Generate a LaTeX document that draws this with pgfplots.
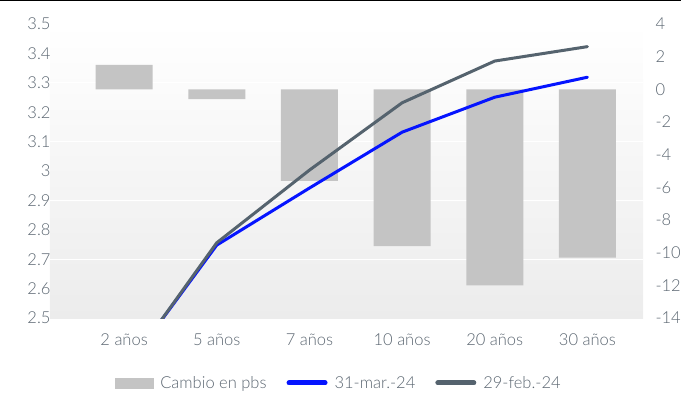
\documentclass[border=0pt]{standalone}
\usepackage{fontspec}
\setmainfont{Lato}[UprightFont=* Light]
\usepackage{pgfplots}
\pgfplotsset{compat=1.18}
\definecolor{barc}{RGB}{196,196,196}
\definecolor{marc}{RGB}{5,20,255}
\definecolor{febc}{RGB}{85,99,110}
\definecolor{txtc}{RGB}{90,101,112}
\definecolor{bgbot}{RGB}{236,236,236}
\newcommand{\lblfont}{\fontsize{16.5}{19}\selectfont}
\begin{document}
\begin{tikzpicture}
\useasboundingbox (-50pt,-74pt) rectangle (631pt,318pt);
\draw[black, line width=1.3pt] (-50pt,317.4pt) -- (631pt,317.4pt);
% right axis: change in basis points
\begin{axis}[
  at={(0,0)}, anchor=south west,
  scale only axis, width=593pt, height=294pt,
  xmin=-0.8, xmax=5.6, ymin=-14, ymax=4,
  axis y line*=right, axis x line=none,
  axis line style={draw=none}, tick style={draw=none},
  ytick={-14,-12,-10,-8,-6,-4,-2,0,2,4},
  extra y ticks={-10.4,-6.8,-3.2,0.4},
  extra y tick labels={},
  extra y tick style={grid=major, major grid style={white, line width=1.2pt}},
  /pgf/number format/assume math mode=true,
  yticklabel style={font=\lblfont, color=txtc, anchor=west, xshift=9pt},
  axis background/.style={top color=white, bottom color=bgbot},
  xtick=\empty,
]
\addplot[ybar, bar width=57pt, bar shift=0pt, fill=barc, draw=none]
  coordinates {(0,1.5) (1,-0.6) (2,-5.6) (3,-9.6) (4,-12) (5,-10.3)};
\end{axis}
% left axis: yields
\begin{axis}[
  at={(0,0)}, anchor=south west,
  scale only axis, width=593pt, height=294pt,
  xmin=-0.8, xmax=5.6, ymin=2.5, ymax=3.5,
  axis y line*=left, axis x line*=bottom,
  axis line style={draw=none}, tick style={draw=none},
  xtick={0,1,2,3,4,5},
  xticklabels={2 años, 5 años, 7 años, 10 años, 20 años, 30 años},
  xticklabel style={yshift=-12pt},
  ytick={2.5,2.6,2.7,2.8,2.9,3,3.1,3.2,3.3,3.4,3.5},
  yticklabel style={/pgf/number format/fixed, /pgf/number format/precision=1, xshift=4pt},
  /pgf/number format/assume math mode=true,
  ticklabel style={font=\lblfont, color=txtc},
  legend style={at={(0.487,-0.221)}, anchor=center, draw=none, fill=none,
    legend columns=3, font=\lblfont, text=txtc,
    /tikz/every odd column/.append style={column sep=5pt},
    /tikz/every even column/.append style={column sep=18pt}},
  legend cell align=left,
]
\addlegendimage{area legend, legend image code/.code={\fill[barc] (0pt,-5pt) rectangle (38pt,5pt);}}
\addlegendentry{Cambio en pbs}
\addplot[marc, line width=3pt, line cap=round, line join=round,
  legend image code/.code={\draw[marc, line width=5pt, line cap=round] (2pt,0pt) -- (38pt,0pt);}]
  coordinates {(0,2.32) (1,2.748) (2,2.942) (3,3.132) (4,3.251) (5,3.319)};
\addlegendentry{31-mar.-24}
\addplot[febc, line width=3pt, line cap=round, line join=round,
  legend image code/.code={\draw[febc, line width=5pt, line cap=round] (2pt,0pt) -- (38pt,0pt);}]
  coordinates {(0,2.317) (1,2.756) (2,3.003) (3,3.232) (4,3.374) (5,3.423)};
\addlegendentry{29-feb.-24}
\end{axis}
\end{tikzpicture}
\end{document}
